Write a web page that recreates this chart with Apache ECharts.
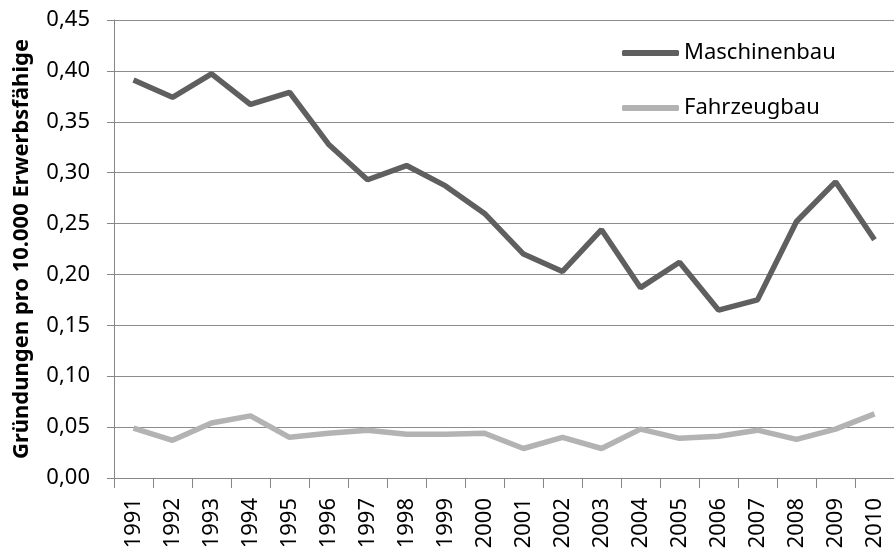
<!DOCTYPE html>
<html>
<head>
<meta charset="utf-8">
<script src="https://cdn.jsdelivr.net/npm/echarts@6/dist/echarts.min.js"></script>
<style>
    html, body { margin: 0; padding: 0; background: #fff; }
    #chart { width: 894px; height: 552px; }
</style>
</head>
<body>
<div id="chart"></div>
<script>
// Jahre
const years = ['1991', '1992', '1993', '1994', '1995', '1996', '1997', '1998', '1999', '2000',
    '2001', '2002', '2003', '2004', '2005', '2006', '2007', '2008', '2009', '2010']
// Gründungen pro 10.000 Erwerbsfähige
const maschinenbau = [0.391, 0.374, 0.397, 0.367, 0.379, 0.328, 0.293, 0.307, 0.287, 0.260,
    0.220, 0.203, 0.244, 0.187, 0.212, 0.165, 0.175, 0.252, 0.291, 0.234]
const fahrzeugbau = [0.049, 0.037, 0.054, 0.061, 0.040, 0.044, 0.047, 0.043, 0.043, 0.044,
    0.029, 0.040, 0.029, 0.048, 0.039, 0.041, 0.047, 0.038, 0.048, 0.063]
const yMin = 0
const yMax = 0.45
const yStep = 0.05

const FONT = 'Noto Sans'
const AXIS_COLOR = '#868686'
const COLOR_LIST = ['#5f5f5f', '#b3b3b3']

const chart = echarts.init(document.getElementById('chart'))

const option = {
    animation: false,
    textStyle: { fontFamily: FONT, color: '#000' },
    legend: {
        orient: 'vertical',
        left: 622,
        top: 42,
        padding: 0,
        icon: 'roundRect',
        itemWidth: 57,
        itemHeight: 6,
        itemGap: 33,
        textStyle: { fontFamily: FONT, fontSize: 22, color: '#000' },
        data: ['Maschinenbau', 'Fahrzeugbau'],
    },
    // Diagramm ragt rechts über den Bildrand hinaus
    grid: {
        left: 114,
        top: 20,
        width: 788,
        height: 458,
        containLabel: false,
    },
    xAxis: {
        type: 'category',
        boundaryGap: true,
        data: years,
        axisLine: { lineStyle: { color: AXIS_COLOR, width: 1 } },
        axisTick: { show: true, length: 10, inside: false, interval: 0, lineStyle: { color: AXIS_COLOR } },
        axisLabel: {
            interval: 0,
            rotate: 90,
            margin: 20,
            fontFamily: FONT,
            fontSize: 22,
            color: '#000',
        },
    },
    yAxis: {
        type: 'value',
        min: yMin,
        max: yMax,
        interval: yStep,
        name: 'Gründungen pro 10.000 Erwerbsfähige',
        nameLocation: 'middle',
        nameGap: 81,
        nameRotate: 90,
        nameTextStyle: {
            fontFamily: FONT,
            fontSize: 22,
            fontWeight: 'bold',
            color: '#000',
        },
        axisLine: { show: true, lineStyle: { color: AXIS_COLOR, width: 1 } },
        axisTick: { show: true, length: 7, inside: false, lineStyle: { color: AXIS_COLOR } },
        axisLabel: {
            margin: 24,
            fontFamily: FONT,
            fontSize: 22,
            color: '#000',
            formatter: (v) => v.toFixed(2).replace('.', ','),
        },
        splitLine: { show: true, lineStyle: { color: '#8c8c8c', width: 1 } },
    },
    series: [
        {
            name: 'Maschinenbau',
            type: 'line',
            symbol: 'none',
            data: maschinenbau,
            lineStyle: { color: COLOR_LIST[0], width: 5.5 },
            itemStyle: { color: COLOR_LIST[0] },
        },
        {
            name: 'Fahrzeugbau',
            type: 'line',
            symbol: 'none',
            data: fahrzeugbau,
            lineStyle: { color: COLOR_LIST[1], width: 5.5 },
            itemStyle: { color: COLOR_LIST[1] },
        },
    ],
}

chart.setOption(option)
</script>
</body>
</html>
